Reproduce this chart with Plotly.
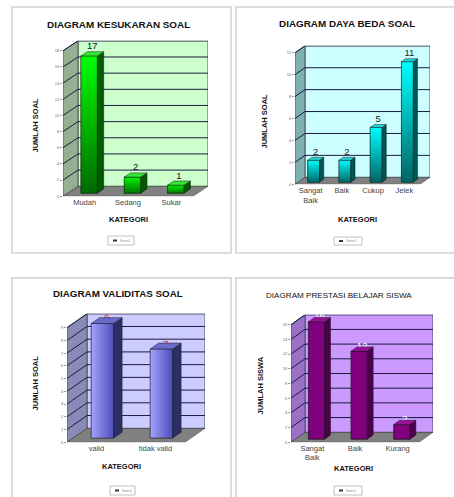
import plotly.graph_objects as go

W, H = 454, 497
FONT = "Liberation Sans, Arial, sans-serif"

# ---------------- data ----------------
kesukaran_cat = ["Mudah", "Sedang", "Sukar"]
kesukaran_val = [17, 2, 1]
kesukaran_ticks = [0, 2, 4, 6, 8, 10, 12, 14, 16, 18]

dayabeda_cat = ["Sangat<br>Baik", "Baik", "Cukup", "Jelek"]
dayabeda_val = [2, 2, 5, 11]
dayabeda_ticks = [0, 2, 4, 6, 8, 10, 12]

validitas_cat = ["valid", "tidak valid"]
validitas_val = [9, 7]
validitas_ticks = [0, 1, 2, 3, 4, 5, 6, 7, 8, 9]

prestasi_cat = ["Sangat<br>Baik", "Baik", "Kurang"]
prestasi_val = [16, 12, 2]
prestasi_ticks = [0, 2, 4, 6, 8, 10, 12, 14, 16]

titles = ["DIAGRAM KESUKARAN SOAL", "DIAGRAM DAYA BEDA SOAL",
          "DIAGRAM VALIDITAS SOAL", "DIAGRAM PRESTASI BELAJAR SISWA"]
x_title = "KATEGORI"
y_titles = ["JUMLAH SOAL", "JUMLAH SOAL", "JUMLAH SOAL", "JUMLAH SISWA"]
legend_name = "Series1"

# ---------------- panel styles / geometry (pixels) ----------------
panels = [
    dict(cats=kesukaran_cat, vals=kesukaran_val, ticks=kesukaran_ticks,
         xL=63, xRf=193, yB=197, yT=51, dx=15, dy=10,
         border=(12, 7, 231, 254), title_xy=(119, 25), title_bold=True, title_size=9.9,
         xt_xy=(128, 220), yt_xy=(35, 126), leg=(108, 237, 134, 246),
         back="#ccffcc", left="#93b093", top_c="#00ff00", bot_c="#006a00",
         side="#005a00", topface="#33e833", grad="v", mid="#00b000",
         lbl_color="#111111"),
    dict(cats=dayabeda_cat, vals=dayabeda_val, ticks=dayabeda_ticks,
         xL=295, xRf=420, yB=185, yT=53, dx=10, dy=7,
         border=(236, 7, 460, 254), title_xy=(347, 24), title_bold=True, title_size=9.9,
         xt_xy=(357, 220), yt_xy=(265, 122), leg=(334, 238, 362, 246),
         back="#ccffff", left="#80b0b0", top_c="#00ffff", bot_c="#006464",
         side="#005555", topface="#22d8d8", grad="v", mid="#00b0b0",
         lbl_color="#222222"),
    dict(cats=validitas_cat, vals=validitas_val, ticks=validitas_ticks,
         xL=67, xRf=185, yB=444, yT=329, dx=20, dy=14,
         border=(12, 279, 231, 505), title_xy=(118, 295), title_bold=True, title_size=9.8,
         xt_xy=(121, 468), yt_xy=(35, 385), leg=(110, 488, 135, 497),
         back="#ccccff", left="#8a8ab8", top_c="#a8a8ff", bot_c="#4a4ab8",
         side="#2e2e66", topface="#6a6acc", grad="h", mid="#7070e0",
         lbl_color="#cc3333"),
    dict(cats=prestasi_cat, vals=prestasi_val, ticks=prestasi_ticks,
         xL=291, xRf=419, yB=444, yT=326, dx=14, dy=10,
         border=(236, 279, 460, 505), title_xy=(339, 297), title_bold=False, title_size=8.1,
         xt_xy=(353, 470), yt_xy=(260, 387), leg=(334, 488, 362, 497),
         back="#cc99ff", left="#9a70c8", top_c="#800080", bot_c="#800080",
         side="#4a004a", topface="#9a109a", grad=None, mid="#800080",
         lbl_color="#ffffff"),
]

F0, F1 = 0.3, 0.72     # bar depth placement (fraction of the box depth)
BW = 0.38              # bar width in category units
NSTRIP = 30
GRID = "#1a1a40"


def hx(c):
    c = c.lstrip("#")
    return tuple(int(c[i:i + 2], 16) for i in (0, 2, 4))


def mix(c1, c2, t):
    a, b = hx(c1), hx(c2)
    return "#%02x%02x%02x" % tuple(int(round(a[i] + (b[i] - a[i]) * t)) for i in range(3))


def px(x):
    return x / W


def py(y):
    return 1 - y / H


fig = go.Figure()
shapes, annotations, layout = [], [], {}

# panel frames
for p in panels:
    x0, y0, x1, y1 = p["border"]
    shapes.append(dict(type="rect", xref="paper", yref="paper", x0=px(x0), x1=px(x1),
                       y0=py(y0), y1=py(y1), line=dict(color="#d4d4d4", width=1.6),
                       fillcolor="white", layer="below"))

for k, p in enumerate(panels):
    idx = k + 1
    sfx = "" if idx == 1 else str(idx)
    xr, yr = "x" + sfx, "y" + sfx
    cats, vals, ticks = p["cats"], p["vals"], p["ticks"]
    n = len(cats)
    ymax = ticks[-1]
    ppx = (p["xRf"] - p["xL"]) / n
    ppy = (p["yB"] - p["yT"]) / ymax
    dxd = p["dx"] / ppx
    dyd = p["dy"] / ppy
    xa0, xa1 = -0.5, n - 0.5

    layout["xaxis" + sfx] = dict(
        domain=[px(p["xL"]), px(p["xRf"] + p["dx"])], range=[xa0, xa1 + dxd],
        anchor=yr, tickmode="array", tickvals=list(range(n)), ticktext=cats,
        showgrid=False, zeroline=False, showline=False, ticks="",
        tickfont=dict(size=7.5, color="#444444", family=FONT), fixedrange=True)
    layout["yaxis" + sfx] = dict(
        domain=[py(p["yB"]), py(p["yT"] - p["dy"])], range=[0, ymax + dyd],
        anchor=xr, tickmode="array", tickvals=ticks, showgrid=False, zeroline=False,
        showline=False, ticks="outside", ticklen=2, tickcolor="#999999",
        tickfont=dict(size=4, color="#666666", family=FONT), fixedrange=True)

    def S(**kw):
        d = dict(xref=xr, yref=yr)
        d.update(kw)
        shapes.append(d)

    # floor
    S(type="path", layer="below", fillcolor="#808080", line=dict(color="#555555", width=0.6),
      path=f"M{xa0},0 L{xa1},0 L{xa1 + dxd},{dyd} L{xa0 + dxd},{dyd} Z")
    # back wall
    S(type="rect", layer="below", fillcolor=p["back"], line=dict(color="#333333", width=0.8),
      x0=xa0 + dxd, x1=xa1 + dxd, y0=dyd, y1=ymax + dyd)
    # left wall
    S(type="path", layer="below", fillcolor=p["left"], line=dict(color="#444444", width=0.8),
      path=f"M{xa0},0 L{xa0},{ymax} L{xa0 + dxd},{ymax + dyd} L{xa0 + dxd},{dyd} Z")
    # grid lines
    for t in ticks[1:]:
        S(type="line", layer="below", line=dict(color=GRID, width=1),
          x0=xa0 + dxd, x1=xa1 + dxd, y0=t + dyd, y1=t + dyd)
        S(type="line", layer="below", line=dict(color=GRID, width=1),
          x0=xa0, x1=xa0 + dxd, y0=t, y1=t + dyd)

    # bars (front face)
    base = F0 * dyd
    xs = [i + F0 * dxd for i in range(n)]
    fig.add_trace(go.Bar(x=xs, y=vals, base=base, width=BW, xaxis=xr, yaxis=yr,
                         marker=dict(color=p["mid"], line=dict(color="#222222", width=0.5)),
                         showlegend=False, hoverinfo="skip", name=legend_name))

    ddx, ddy = (F1 - F0) * dxd, (F1 - F0) * dyd
    for i, v in enumerate(vals):
        xl, xrr = xs[i] - BW / 2, xs[i] + BW / 2
        # gradient strips
        if p["grad"] == "v":
            for s in range(NSTRIP):
                y0 = base + v * s / NSTRIP
                y1 = base + v * (s + 1) / NSTRIP + (v / NSTRIP * 0.4 if s < NSTRIP - 1 else 0)
                S(type="rect", layer="above", line=dict(width=0),
                  fillcolor=mix(p["bot_c"], p["top_c"], (s + 0.5) / NSTRIP),
                  x0=xl, x1=xrr, y0=y0, y1=y1)
        elif p["grad"] == "h":
            for s in range(NSTRIP):
                x0 = xl + BW * s / NSTRIP
                x1 = xl + BW * (s + 1) / NSTRIP + (BW / NSTRIP * 0.4 if s < NSTRIP - 1 else 0)
                S(type="rect", layer="above", line=dict(width=0),
                  fillcolor=mix(p["top_c"], p["bot_c"], (s + 0.5) / NSTRIP),
                  x0=x0, x1=x1, y0=base, y1=base + v)
        # front outline
        S(type="rect", layer="above", line=dict(color="#1a1a1a", width=0.5),
          x0=xl, x1=xrr, y0=base, y1=base + v)
        # side face
        S(type="path", layer="above", fillcolor=p["side"], line=dict(color="#1a1a1a", width=0.5),
          path=f"M{xrr},{base} L{xrr},{base + v} L{xrr + ddx},{base + v + ddy} L{xrr + ddx},{base + ddy} Z")
        # top face
        S(type="path", layer="above", fillcolor=p["topface"], line=dict(color="#1a1a1a", width=0.5),
          path=f"M{xl},{base + v} L{xrr},{base + v} L{xrr + ddx},{base + v + ddy} L{xl + ddx},{base + v + ddy} Z")

    # value labels
    if k < 2:
        ly = [v + F1 * dyd for v in vals]
    else:
        ly = [v + base for v in vals]
    fig.add_trace(go.Scatter(x=[x + ddx / 2 for x in xs], y=ly, mode="text",
                             text=[str(v) for v in vals], textposition="top center",
                             textfont=dict(size=9.5, color=p["lbl_color"], family=FONT),
                             xaxis=xr, yaxis=yr, showlegend=False, hoverinfo="skip",
                             cliponaxis=False))

    # titles
    tx, ty = p["title_xy"]
    ttl = f"<b>{titles[k]}</b>" if p["title_bold"] else titles[k]
    annotations.append(dict(xref="paper", yref="paper", x=px(tx), y=py(ty), text=ttl,
                            showarrow=False, xanchor="center", yanchor="middle",
                            font=dict(size=p["title_size"], color="#111111", family=FONT)))
    ax_, ay_ = p["xt_xy"]
    annotations.append(dict(xref="paper", yref="paper", x=px(ax_), y=py(ay_),
                            text=f"<b>{x_title}</b>", showarrow=False,
                            xanchor="center", yanchor="middle",
                            font=dict(size=7.5, color="#111111", family=FONT)))
    bx, by = p["yt_xy"]
    annotations.append(dict(xref="paper", yref="paper", x=px(bx), y=py(by),
                            text=f"<b>{y_titles[k]}</b>", showarrow=False, textangle=-90,
                            xanchor="center", yanchor="middle",
                            font=dict(size=7.5, color="#111111", family=FONT)))
    # legend box
    l0, t0, l1, t1 = p["leg"]
    shapes.append(dict(type="rect", xref="paper", yref="paper", x0=px(l0), x1=px(l1),
                       y0=py(t0), y1=py(t1), line=dict(color="#b0b0b0", width=0.8),
                       fillcolor="white"))
    cy = (t0 + t1) / 2
    shapes.append(dict(type="rect", xref="paper", yref="paper", x0=px(l0 + 5), x1=px(l0 + 9),
                       y0=py(cy - 1), y1=py(cy + 1), line=dict(width=0), fillcolor="#333333"))
    annotations.append(dict(xref="paper", yref="paper", x=px(l0 + 10), y=py(cy),
                            text=legend_name, showarrow=False, xanchor="left", yanchor="middle",
                            font=dict(size=3, color="#888888", family=FONT)))

fig.update_layout(width=W, height=H, autosize=False, margin=dict(l=0, r=0, t=0, b=0),
                  paper_bgcolor="white", plot_bgcolor="rgba(0,0,0,0)",
                  barmode="overlay", shapes=shapes, annotations=annotations, **layout)

fig.write_html("out.html")
